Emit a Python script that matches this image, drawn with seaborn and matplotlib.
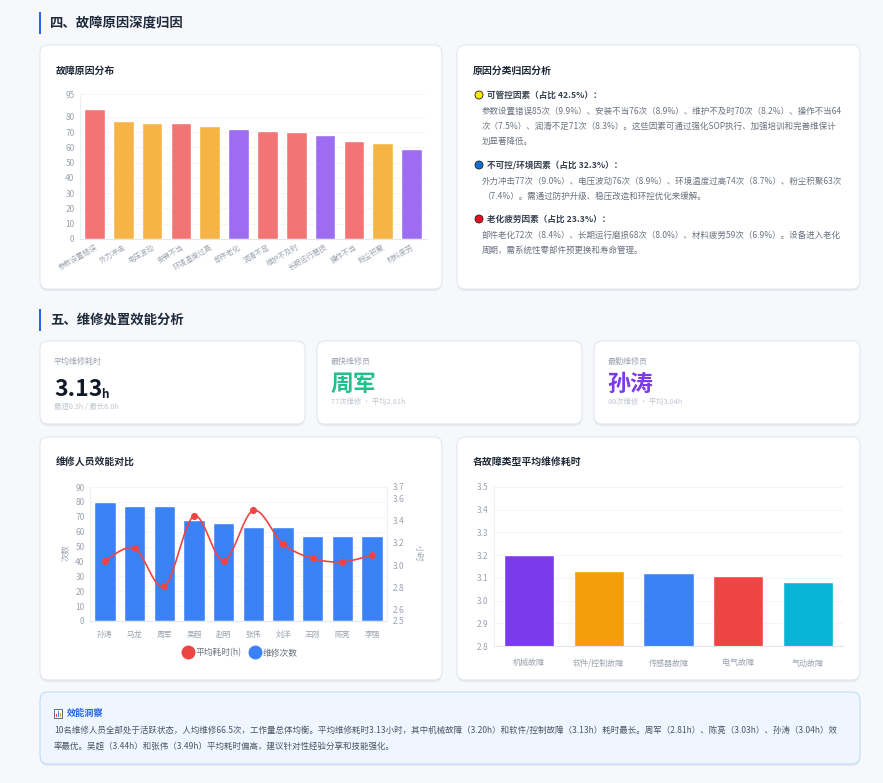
import numpy as np
import matplotlib
matplotlib.use("Agg")
import matplotlib.pyplot as plt
import matplotlib.transforms as mtransforms
from matplotlib.patches import FancyBboxPatch, Circle, Rectangle
from matplotlib.lines import Line2D
from matplotlib.text import Annotation
import seaborn as sns

# ---- data ----
cause_names = ['参数设置错误', '外力冲击', '电压波动', '安装不当', '环境温度过高', '部件老化',
               '润滑不足', '维护不及时', '长期运行磨损', '操作不当', '粉尘积聚', '材料疲劳']
cause_counts = [85, 77, 76, 76, 74, 72, 71, 70, 68, 64, 63, 59]
cause_groups = ['可管控', '不可控', '不可控', '可管控', '不可控', '老化',
                '可管控', '可管控', '老化', '可管控', '不可控', '老化']
group_colors = {'可管控': '#f37474', '不可控': '#f6b446', '老化': '#9e6cf0'}

staff_names = ['孙涛', '马龙', '周军', '吴超', '赵明', '张伟', '刘洋', '王刚', '陈亮', '李强']
staff_counts = [80, 77, 77, 68, 66, 63, 63, 57, 57, 57]
staff_hours = [3.04, 3.15, 2.81, 3.44, 3.04, 3.49, 3.19, 3.06, 3.03, 3.09]

fault_types = ['机械故障', '软件/控制故障', '传感器故障', '电气故障', '气动故障']
fault_hours = [3.20, 3.13, 3.12, 3.11, 3.08]
fault_colors = ['#7c3aed', '#f59e0b', '#3b82f6', '#ef4444', '#06b6d4']

sns.set_style("white")
plt.rcParams['font.family'] = ['Noto Sans CJK SC', 'DejaVu Sans']
plt.rcParams['axes.unicode_minus'] = False

W, H = 883, 783
fig = plt.figure(figsize=(W / 100, H / 100), dpi=100)
fig.patch.set_facecolor('#f7f8fb')
PIX = mtransforms.IdentityTransform()


def rect_axes(x0, y0, x1, y1):
    return fig.add_axes([x0 / W, 1 - y1 / H, (x1 - x0) / W, (y1 - y0) / H])


def card(x0, y0, x1, y1, fc='white', ec='#e2e7ef', r=8):
    sh = FancyBboxPatch((x0, H - y1 - 2), x1 - x0, y1 - y0, boxstyle=f"round,pad=0,rounding_size={r}",
                        fc='#e6eaf0', ec='none', transform=PIX, zorder=0)
    fig.add_artist(sh)
    p = FancyBboxPatch((x0, H - y1), x1 - x0, y1 - y0, boxstyle=f"round,pad=0,rounding_size={r}",
                       fc=fc, ec=ec, lw=0.8, transform=PIX, zorder=0)
    fig.add_artist(p)


def txt(x, y, s, size=6, color='#6b7280', weight='normal', **kw):
    return fig.text(x / W, 1 - y / H, s, fontsize=size, color=color, fontweight=weight, va='center', **kw)


def header(y, s):
    fig.add_artist(Rectangle((39, H - y - 11), 2.2, 22, fc='#2563eb', ec='none', transform=PIX))
    txt(50, y, s, size=9.6, color='#1e293b', weight='bold')


def style_axes(ax):
    ax.set_facecolor('none')
    for s in ['top', 'right']:
        ax.spines[s].set_visible(False)
    ax.spines['left'].set_color('#eef0f4')
    ax.spines['bottom'].set_color('#e3e6ec')
    ax.tick_params(length=0, labelsize=6, colors='#9ca3af', pad=4)
    ax.yaxis.grid(True, color='#f2f4f7', lw=0.6)
    ax.set_axisbelow(True)
    ax.set_xlabel('')
    ax.set_ylabel('')


def smooth(xs, ys, n=24):
    pts = np.column_stack([xs, ys]).astype(float)
    P = np.vstack([pts[0], pts, pts[-1]])
    t = np.linspace(0, 1, n)[:, None]
    segs = []
    for i in range(1, len(P) - 2):
        p0, p1, p2, p3 = P[i - 1], P[i], P[i + 1], P[i + 2]
        segs.append(0.5 * (2 * p1 + (-p0 + p2) * t + (2 * p0 - 5 * p1 + 4 * p2 - p3) * t ** 2
                           + (-p0 + 3 * p1 - 3 * p2 + p3) * t ** 3))
    c = np.vstack(segs)
    return c[:, 0], c[:, 1]


# ---- section 4 ----
header(23, '四、故障原因深度归因')
card(40, 45, 442, 289)
card(457, 45, 860, 289)
txt(56, 71, '故障原因分布', size=7.1, color='#1f2937', weight='bold')
txt(473, 71, '原因分类归因分析', size=7.1, color='#1f2937', weight='bold')

ax1 = rect_axes(80, 94, 426, 239)
sns.barplot(x=cause_names, y=cause_counts, hue=cause_names,
            palette=[group_colors[g] for g in cause_groups],
            width=0.72, saturation=1, legend=False, ax=ax1)
ax1.set_ylim(0, 95)
ax1.set_yticks([0, 10, 20, 30, 40, 50, 60, 70, 80, 95])
ax1.set_xlim(-0.5, len(cause_names) - 0.5)
style_axes(ax1)
ax1.tick_params(axis='x', labelsize=5.2, pad=3)
for lab in ax1.get_xticklabels():
    lab.set_rotation(30)
    lab.set_ha('right')
    lab.set_rotation_mode('anchor')

# attribution text
blocks = [
    (95, '#ffe600', '可管控因素（占比 42.5%）：',
     ['参数设置错误85次（9.9%）、安装不当76次（8.9%）、维护不及时70次（8.2%）、操作不当64',
      '次（7.5%）、润滑不足71次（8.3%）。这些因素可通过强化SOP执行、加强培训和完善维保计',
      '划显著降低。']),
    (165, '#0b6fd6', '不可控/环境因素（占比 32.3%）：',
     ['外力冲击77次（9.0%）、电压波动76次（8.9%）、环境温度过高74次（8.7%）、粉尘积聚63次',
      '（7.4%）。需通过防护升级、稳压改造和环控优化来缓解。']),
    (219, '#e5101f', '老化疲劳因素（占比 23.3%）：',
     ['部件老化72次（8.4%）、长期运行磨损68次（8.0%）、材料疲劳59次（6.9%）。设备进入老化',
      '周期，需系统性零部件预更换和寿命管理。']),
]
for y0, dot, head, lines in blocks:
    fig.add_artist(Circle((479, H - y0), 4, fc=dot, ec='#222222', lw=0.6, transform=PIX))
    txt(487, y0, head, size=6.2, color='#374151', weight='bold')
    for i, ln in enumerate(lines):
        txt(482, y0 + 16.5 + i * 15.2, ln, size=6.1, color='#6b7280')

# ---- section 5 ----
header(320, '五、维修处置效能分析')
card(40, 341, 305, 424)
card(317, 341, 582, 424)
card(594, 341, 860, 424)

txt(54, 361, '平均维修耗时', size=5.8, color='#9ca3af')
big = fig.text(54 / W, 1 - 396 / H, '3.13', fontsize=16.5, color='#111827', fontweight='bold', va='baseline')
fig.add_artist(Annotation('h', xy=(1, 0), xycoords=big, xytext=(-0.8, 0.3), textcoords='offset points',
                          fontsize=8.5, color='#111827', fontweight='bold', va='bottom', ha='left'))
txt(54, 407, '最短0.3h / 最长6.0h', size=5.3, color='#bfc5ce')

txt(331, 361, '最快维修员', size=5.8, color='#9ca3af')
txt(330, 384, '周军', size=16.5, color='#22c08b', weight='bold')
txt(331, 402, '77次维修 · 平均2.81h', size=5.3, color='#bfc5ce')

txt(608, 361, '最勤维修员', size=5.8, color='#9ca3af')
txt(607, 384, '孙涛', size=16.5, color='#7c3aed', weight='bold')
txt(608, 402, '80次维修 · 平均3.04h', size=5.3, color='#bfc5ce')

card(40, 437, 442, 680)
card(457, 437, 860, 680)
txt(56, 462, '维修人员效能对比', size=7.1, color='#1f2937', weight='bold')
txt(473, 462, '各故障类型平均维修耗时', size=7.1, color='#1f2937', weight='bold')

# staff efficiency chart
ax3 = rect_axes(90, 487, 387, 621)
sns.barplot(x=staff_names, y=staff_counts, color='#3b82f6', saturation=1, width=0.72, ax=ax3)
ax3.set_ylim(0, 90)
ax3.set_yticks(range(0, 91, 10))
ax3.set_xlim(-0.5, len(staff_names) - 0.5)
style_axes(ax3)
ax3.tick_params(axis='x', labelsize=5.6, pad=7)

ax3b = ax3.twinx()
cx, cy = smooth(np.arange(len(staff_names)), staff_hours)
ax3b.plot(cx, cy, color='#ef4444', lw=1.2, zorder=3)
sns.scatterplot(x=np.arange(len(staff_names)), y=staff_hours, color='#ef4444', s=26,
                edgecolor='#ef4444', linewidth=0, ax=ax3b, zorder=4)
ax3b.set_ylim(2.5, 3.7)
ax3b.set_yticks([2.5, 2.6, 2.8, 3.0, 3.2, 3.4, 3.6, 3.7])
ax3b.set_yticklabels(['2.5', '2.6', '2.8', '3.0', '3.2', '3.4', '3.6', '3.7'])
ax3b.set_facecolor('none')
for s in ['top', 'left', 'bottom']:
    ax3b.spines[s].set_visible(False)
ax3b.spines['right'].set_color('#eef0f4')
ax3b.tick_params(length=0, labelsize=6, colors='#9ca3af', pad=4)
ax3b.set_ylabel('')
fig.text(65 / W, 1 - 553 / H, '次数', rotation=90, fontsize=6, color='#9ca3af', va='center', ha='center')
fig.text(418 / W, 1 - 553 / H, '小时', rotation=270, fontsize=6, color='#9ca3af', va='center', ha='center')

handles = [Line2D([], [], marker='o', ls='', color='#ef4444', markersize=9),
           Line2D([], [], marker='o', ls='', color='#3b82f6', markersize=9)]
fig.legend(handles, ['平均耗时(h)', '维修次数'], loc='center', bbox_to_anchor=(240 / W, 1 - 653 / H),
           ncol=2, frameon=False, fontsize=6.3, labelcolor='#6b7280', handletextpad=0.2,
           columnspacing=0.9, handlelength=1.3)

# fault type chart
ax4 = rect_axes(494, 487, 843, 646)
sns.barplot(x=fault_types, y=fault_hours, hue=fault_types, palette=fault_colors,
            saturation=1, width=0.72, legend=False, ax=ax4)
ax4.set_ylim(2.8, 3.5)
yt = np.round(np.arange(2.8, 3.51, 0.1), 1)
ax4.set_yticks(yt)
ax4.set_yticklabels([f'{v:.1f}' for v in yt])
ax4.set_xlim(-0.5, len(fault_types) - 0.5)
style_axes(ax4)
ax4.tick_params(axis='x', labelsize=5.8, pad=9)

# insight box
card(40, 692, 860, 764, fc='#eff6ff', ec='#bfdbfe', r=8)
fig.add_artist(Rectangle((54, H - 718), 8, 9, fc='white', ec='#475569', lw=0.6, transform=PIX))
for bx, bh, bc in [(55.5, 3, '#ef4444'), (57.5, 6, '#3b82f6'), (59.5, 4.5, '#f59e0b')]:
    fig.add_artist(Rectangle((bx, H - 717), 1.4, bh, fc=bc, ec='none', transform=PIX))
txt(67, 713, '效能洞察', size=6.6, color='#2563eb', weight='bold')
txt(54, 731, '10名维修人员全部处于活跃状态，人均维修66.5次，工作量总体均衡。平均维修耗时3.13小时，'
    '其中机械故障（3.20h）和软件/控制故障（3.13h）耗时最长。周军（2.81h）、陈亮（3.03h）、孙涛（3.04h）效',
    size=6.1, color='#4b5563')
txt(54, 746, '率最优。吴超（3.44h）和张伟（3.49h）平均耗时偏高，建议针对性经验分享和技能强化。',
    size=6.1, color='#4b5563')

fig.savefig('out.png', dpi=100, facecolor=fig.get_facecolor())
